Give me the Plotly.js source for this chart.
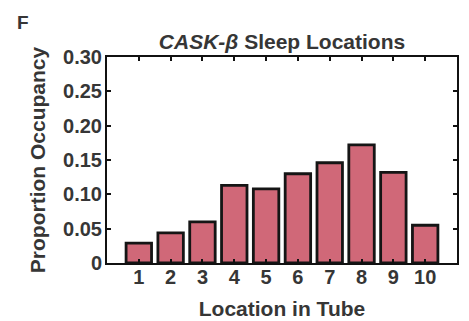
<!DOCTYPE html>
<html>
<head>
<meta charset="utf-8">
<script src="https://cdn.plot.ly/plotly-3.0.1.min.js"></script>
<style>
  html, body { margin: 0; padding: 0; background: #ffffff; }
  #chart { width: 469px; height: 321px; }
</style>
</head>
<body>
<div id="chart"></div>
<script>
// Tube positions and the proportion of sleep spent at each
const locations = [1, 2, 3, 4, 5, 6, 7, 8, 9, 10];
const occupancy = [0.029, 0.044, 0.060, 0.113, 0.108, 0.130, 0.146, 0.172, 0.132, 0.055];

// Y-axis tick values and their labels
const yTickVals = [0, 0.05, 0.10, 0.15, 0.20, 0.25, 0.30];
const yTickText = ['0', '0.05', '0.10', '0.15', '0.20', '0.25', '0.30'];

const textColor = '#363636';
const fontFamily = '"Liberation Sans", Arial, sans-serif';

const trace = {
  type: 'bar',
  x: locations,
  y: occupancy,
  width: 0.8,
  marker: {
    color: '#d06878',
    line: { color: '#151515', width: 2.8 }
  },
  hoverinfo: 'x+y'
};

const axisCommon = {
  showline: true,
  linecolor: '#111111',
  linewidth: 2,
  mirror: 'ticks',
  ticks: 'inside',
  ticklen: 4,
  tickwidth: 2,
  tickcolor: '#111111',
  showgrid: false,
  zeroline: false,
  fixedrange: true,
  tickfont: { family: fontFamily, size: 20, color: textColor, weight: 'bold' }
};

const layout = {
  width: 469,
  height: 321,
  margin: { l: 107, r: 12, t: 57, b: 58 },
  paper_bgcolor: '#ffffff',
  plot_bgcolor: '#ffffff',
  showlegend: false,
  title: {
    text: '<i>CASK-β</i> Sleep Locations',
    font: { family: fontFamily, size: 21, color: textColor, weight: 'bold' },
    x: 0.5, xref: 'paper', xanchor: 'center',
    y: 1 - 42 / 321, yref: 'container', yanchor: 'middle'
  },
  xaxis: Object.assign({}, axisCommon, {
    range: [0, 11],
    tickvals: locations,
    ticktext: locations.map(String),
    ticklabelstandoff: -5,
    title: {
      text: 'Location in Tube',
      font: { family: fontFamily, size: 21, color: textColor, weight: 'bold' },
      standoff: 14
    }
  }),
  yaxis: Object.assign({}, axisCommon, {
    range: [0, 0.3],
    tickvals: yTickVals,
    ticktext: yTickText,
    ticklabelstandoff: -1,
    title: {
      text: 'Proportion Occupancy',
      font: { family: fontFamily, size: 21, color: textColor, weight: 'bold' },
      standoff: 12
    }
  }),
  annotations: [{
    text: 'F',
    xref: 'paper', yref: 'paper',
    x: (15 - 107) / 350, y: 1 + (57 - 22) / 206,
    xanchor: 'left', yanchor: 'middle',
    showarrow: false,
    font: { family: fontFamily, size: 19, color: textColor, weight: 'bold' }
  }]
};

Plotly.newPlot('chart', [trace], layout, { displayModeBar: false, staticPlot: true });
</script>
</body>
</html>
